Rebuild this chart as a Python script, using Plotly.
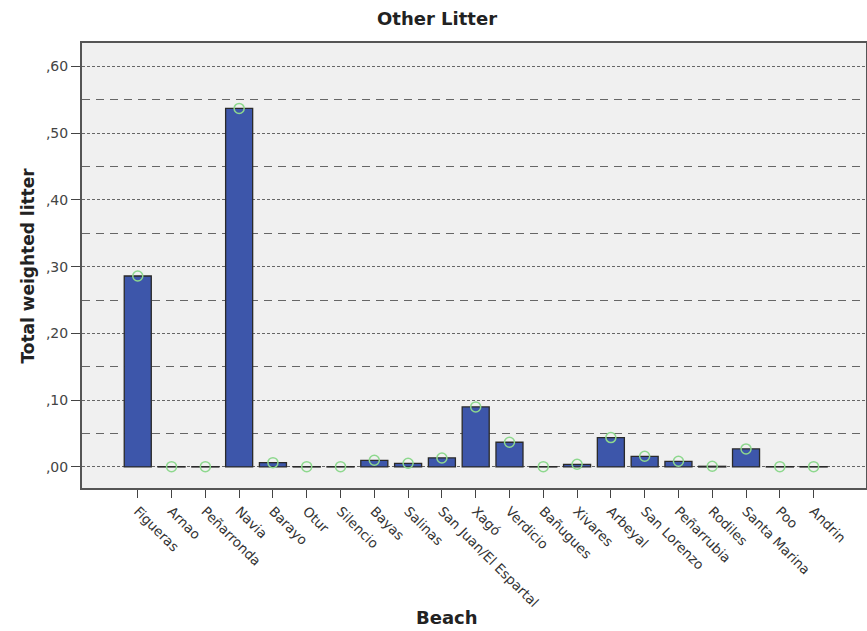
import plotly.graph_objects as go

beaches = ["Figueras", "Arnao", "Peñarronda", "Navia", "Barayo", "Otur", "Silencio",
           "Bayas", "Salinas", "San Juan/El Espartal", "Xagó", "Verdicio", "Bañugues",
           "Xivares", "Arbeyal", "San Lorenzo", "Peñarrubia", "Rodiles", "Santa Marina",
           "Poo", "Andrin"]
values = [0.286, 0.0005, 0.0005, 0.537, 0.0065, 0.0005, 0.0005, 0.010, 0.0055, 0.0135,
          0.090, 0.037, 0.0005, 0.004, 0.044, 0.016, 0.0085, 0.001, 0.027, 0.0005, 0.0005]
ytickvals = [0.0, 0.1, 0.2, 0.3, 0.4, 0.5, 0.6]
yticktext = [",00", ",10", ",20", ",30", ",40", ",50", ",60"]
yminorvals = [0.05, 0.15, 0.25, 0.35, 0.45, 0.55]

idx = list(range(len(beaches)))
font = "DejaVu Sans"

fig = go.Figure()
fig.add_trace(go.Bar(
    x=idx, y=values, width=0.8,
    marker=dict(color="#3D56AA", line=dict(color="#2a2a2a", width=1.3)),
    showlegend=False, hoverinfo="skip"))
fig.add_trace(go.Scatter(
    x=idx, y=values, mode="markers",
    marker=dict(symbol="circle-open", size=10, color="#8ED88E", line=dict(width=1.5)),
    showlegend=False, hoverinfo="skip"))

fig.update_layout(
    width=867, height=631,
    margin=dict(l=82, r=1, t=43, b=143, autoexpand=False),
    paper_bgcolor="white", plot_bgcolor="#F0F0F0",
    font=dict(family=font, color="#333"),
    bargap=0.2,
    annotations=[
        dict(text="<b>Other Litter</b>", xref="paper", yref="paper", x=0.453, y=1.056,
             xanchor="center", yanchor="middle", showarrow=False,
             font=dict(family=font, size=18, color="#222")),
        dict(text="<b>Beach</b>", xref="paper", yref="paper", x=0.466, y=-0.29,
             xanchor="center", yanchor="middle", showarrow=False,
             font=dict(family=font, size=18, color="#222")),
        dict(text="<b>Total weighted litter</b>", xref="paper", yref="paper", x=-0.07, y=0.5,
             xanchor="center", yanchor="middle", showarrow=False, textangle=-90,
             font=dict(family=font, size=17, color="#222")),
    ],
)
fig.update_xaxes(
    range=[-1.65, 21.55], tickmode="array", tickvals=idx, ticktext=beaches,
    tickangle=45, ticks="outside", ticklen=8, tickcolor="#444", tickwidth=1.3,
    tickfont=dict(family=font, size=13.5, color="#333"),
    showgrid=False, zeroline=False, automargin=False,
    showline=True, linecolor="#555", linewidth=2, mirror=True,
)
fig.update_yaxes(
    range=[-0.0315, 0.635], tickmode="array", tickvals=ytickvals, ticktext=yticktext,
    ticks="outside", ticklen=9, tickcolor="#444", tickwidth=1.3,
    tickfont=dict(family=font, size=14, color="#444"),
    showgrid=True, gridcolor="#666", gridwidth=1, griddash="3px,2px",
    minor=dict(tickvals=yminorvals, showgrid=True,
               gridcolor="#666", gridwidth=1.4, griddash="8px,6px", ticks=""),
    zeroline=False, automargin=False,
    showline=True, linecolor="#555", linewidth=2, mirror=True,
)

fig.write_html("out.html", config={"responsive": False, "displayModeBar": False},
               post_script="document.body.style.margin='0';document.body.style.overflow='hidden';")
